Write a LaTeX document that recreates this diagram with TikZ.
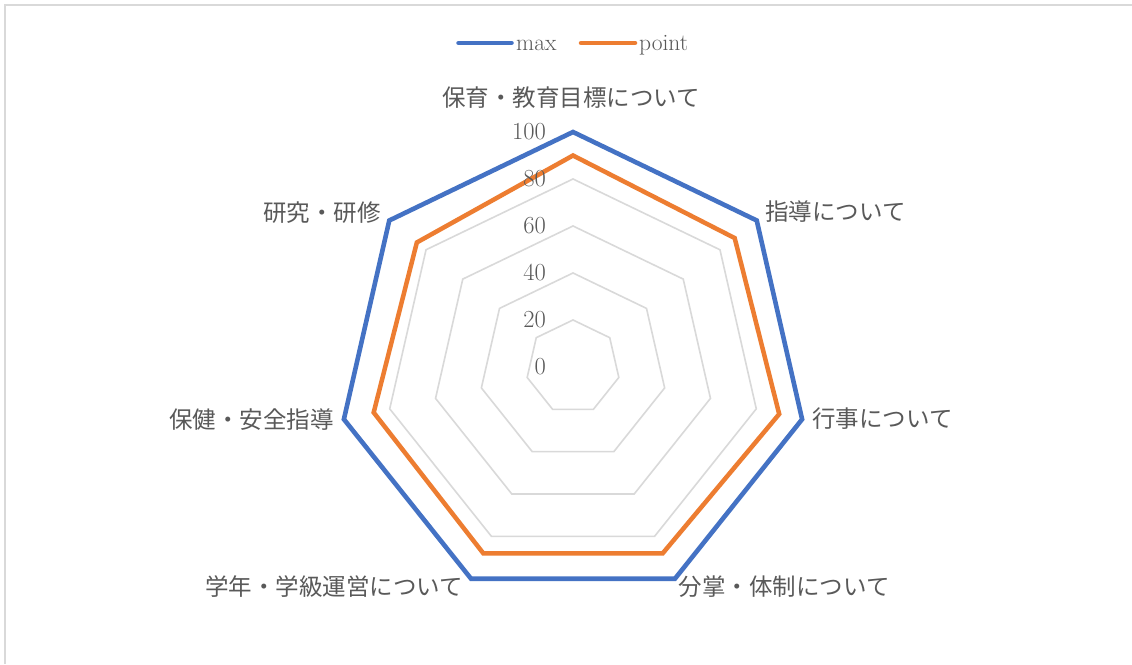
\documentclass[tikz,border=0pt]{standalone}
\usepackage{fontspec}
\newfontfamily\jp{Noto Sans CJK JP}
\definecolor{maxc}{HTML}{4472C4}
\definecolor{ptc}{HTML}{ED7D31}
\definecolor{gridc}{HTML}{D9D9D9}
\definecolor{txtc}{HTML}{595959}
\tikzset{
  axlab/.style={inner sep=0pt, text=txtc, font=\jp\fontsize{23.5}{28}\selectfont},
  numlab/.style={inner sep=0pt, text=txtc, font=\fontsize{24.5}{29}\selectfont, anchor=east},
  leglab/.style={inner sep=0pt, text=txtc, font=\fontsize{23.5}{28}\selectfont, anchor=base west},
  ring/.style={draw=gridc, line width=1.6pt},
  maxline/.style={draw=maxc, line width=4.6pt},
  ptline/.style={draw=ptc, line width=4.5pt},
}
\begin{document}
\begin{tikzpicture}[x=1pt,y=1pt]
\useasboundingbox (0,0) rectangle (1132,664);
\fill[white] (0,0) rectangle (1132,664);
\draw[gridc, line width=1.5pt] (5,0) -- (5,659) -- (1132,659);
% legend
\coordinate (lb1) at (458.5,621);
\coordinate (lb2) at (511.5,621);
\coordinate (lo1) at (581,621);
\coordinate (lo2) at (635,621);
\draw[maxc, line width=4.5pt, line cap=round] (lb1) -- (lb2);
\draw[ptc, line width=4.5pt, line cap=round] (lo1) -- (lo2);
\node[leglab] (lmax) at (516,613.5) {max};
\node[leglab] (lpt) at (639,613.5) {point};
% radar
\begin{scope}[shift={(573,297)}]
\foreach \v in {20,40,60,80,100} {
  \draw[ring] (90:{2.35*\v}) \foreach \k in {1,...,6}{ -- ({90-\k*360/7}:{2.35*\v})} -- cycle;
}
\draw[maxline] (90:235) \foreach \k in {1,...,6}{ -- ({90-\k*360/7}:235)} -- cycle;
\draw[ptline] (90:{2.35*90}) \foreach \k/\v in {1/88,2/90,3/88,4/88,5/87,6/85}{ -- ({90-\k*360/7}:{2.35*\v})} -- cycle;
\end{scope}
% scale numbers
\node[numlab] (n0) at (546,297) {0};
\node[numlab] (n20) at (546,344) {20};
\node[numlab] (n40) at (546,391) {40};
\node[numlab] (n60) at (546,438) {60};
\node[numlab] (n80) at (546,485) {80};
\node[numlab] (n100) at (546,532) {100};
% axis labels
\node[axlab, anchor=center] (a0) at (571,566) {保育・教育目標について};
\node[axlab, anchor=west] (a1) at (765,452.3) {指導について};
\node[axlab, anchor=west] (a2) at (812,245.7) {行事について};
\node[axlab, anchor=west] (a3) at (678.5,77.3) {分掌・体制について};
\node[axlab, anchor=east] (a4) at (463,77.3) {学年・学級運営について};
\node[axlab, anchor=east] (a5) at (334,244.7) {保健・安全指導};
\node[axlab, anchor=east] (a6) at (381,451.3) {研究・研修};
\end{tikzpicture}
\end{document}
